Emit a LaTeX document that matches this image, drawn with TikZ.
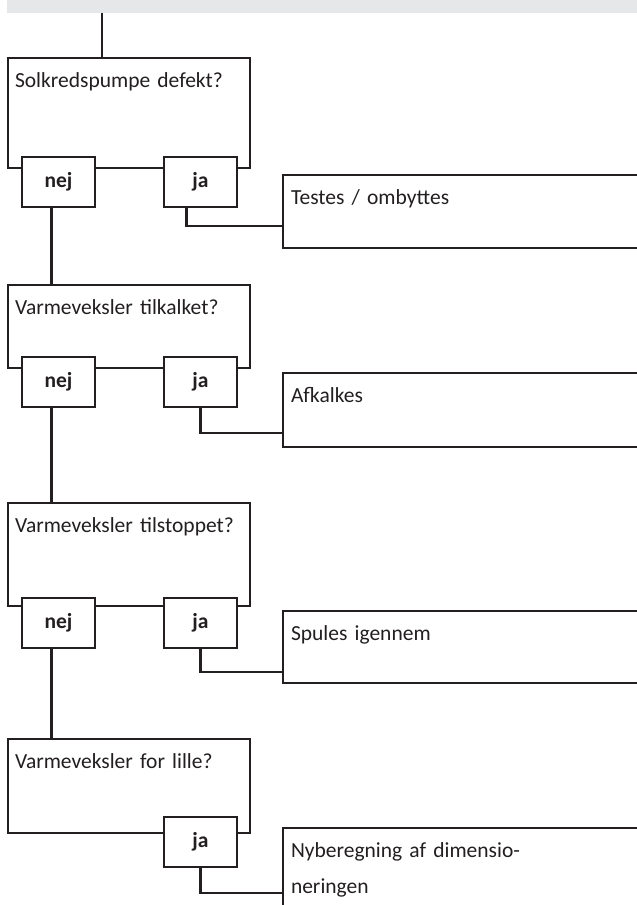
\documentclass[tikz,border=0pt]{standalone}
\usepackage{fontspec}
\setmainfont{Carlito}
\usepackage{xcolor}
\usepackage{tikz}
\usetikzlibrary{positioning,calc}
\definecolor{inkline}{HTML}{231F20}
\definecolor{bandgray}{HTML}{E6E7E8}
\newcommand{\flowfont}{\fontsize{21.5pt}{36pt}\selectfont}
\tikzset{
  quest/.style={draw=inkline,line width=2.2pt,fill=white,anchor=north west,outer sep=0pt,inner xsep=7pt,inner ysep=0pt,text width=228pt,align=left,text height=29pt},
  ans/.style={draw=inkline,line width=2.2pt,fill=white,anchor=north west,outer sep=0pt,inner sep=0pt,minimum width=73pt,minimum height=50pt,font=\flowfont\bfseries},
  act/.style={draw=inkline,line width=2.2pt,anchor=north west,outer sep=0pt,inner xsep=8pt,inner ysep=0pt,text width=380pt,align=left,text height=29pt},
  band/.style={fill=bandgray,anchor=north west,outer sep=0pt,inner sep=0pt,minimum width=640pt,minimum height=13pt},
}

\begin{document}
\begin{tikzpicture}[x=1pt,y=-1pt,font=\flowfont,line width=2.2pt,color=inkline]
  \clip (0,0) rectangle (637,905);
  \node[band] (top) at (7,0) {};
  \node[quest,text depth=81pt] (q1) at (8,58) {Solkredspumpe defekt?};
  \node[quest,text depth=54pt] (q2) at (8,285) {Varmeveksler tilkalket?};
  \node[quest,text depth=74pt] (q3) at (8,503) {Varmeveksler tilstoppet?};
  \node[quest,text depth=65pt] (q4) at (8,739) {Varmeveksler for lille?};
  \node[ans] (nej1) at (22,157) {nej};
  \node[ans] (ja1) at (164,157) {ja};
  \node[ans] (nej2) at (22,357) {nej};
  \node[ans] (ja2) at (164,357) {ja};
  \node[ans] (nej3) at (22,598) {nej};
  \node[ans] (ja3) at (164,598) {ja};
  \node[ans] (ja4) at (164,817) {ja};
  \node[act,text depth=44pt] (act1) at (283,175) {Testes / ombyttes};
  \node[act,text depth=45pt] (act2) at (283,373) {Afkalkes};
  \node[act,text depth=43pt] (act3) at (283,611) {Spules igennem};
  \node[act,text depth=110pt] (act4) at (283,828) {Nyberegning af dimensio-\\neringen};
  \coordinate (t1) at ([xshift=94pt]q1.north west);
  \draw (t1) -- (t1 |- top.south);
  \foreach \i/\j in {1/2,2/3,3/4}{
    \coordinate (n\i) at ([xshift=-7pt]nej\i.south);
    \draw (n\i) -- (n\i |- q\j.north);
  }
  \draw ([xshift=-14pt]ja1.south) |- ([yshift=-51pt]act1.north west);
  \draw (ja2.south) |- ([yshift=-60pt]act2.north west);
  \draw (ja3.south) |- ([yshift=-61pt]act3.north west);
  \draw (ja4.south) |- ([yshift=-65pt]act4.north west);
\end{tikzpicture}
\end{document}
